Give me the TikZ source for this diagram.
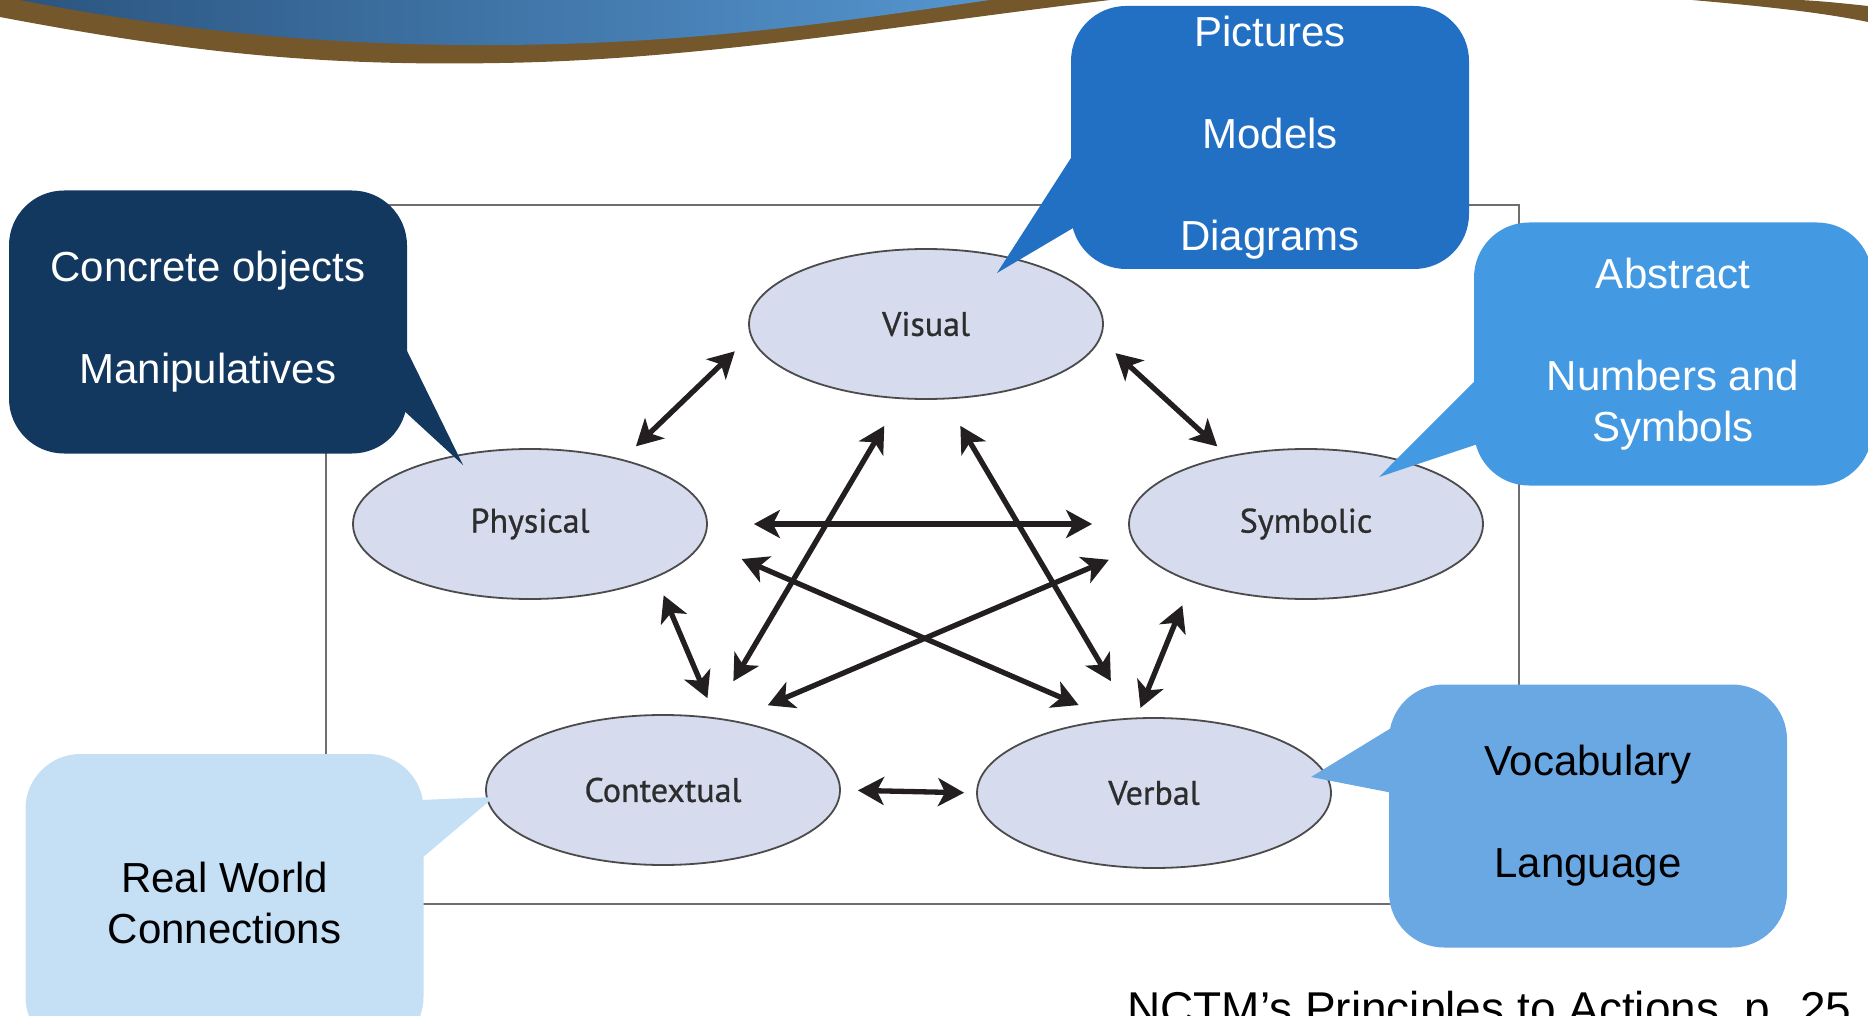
\documentclass[tikz,border=0pt]{standalone}
\usepackage{fontspec}
\setmainfont{Liberation Sans}
\newfontfamily\repfont[FakeBold=0.8]{PT Sans}
\usetikzlibrary{shapes.geometric,arrows.meta,calc}

\definecolor{navy}{RGB}{18,56,95}
\definecolor{bluedeep}{RGB}{33,112,196}
\definecolor{bluemid}{RGB}{68,153,227}
\definecolor{bluesoft}{RGB}{106,168,228}
\definecolor{bluepale}{RGB}{197,223,245}
\definecolor{lavender}{RGB}{214,219,238}
\definecolor{rimgray}{RGB}{75,75,75}
\definecolor{inkgray}{RGB}{45,45,45}
\definecolor{arrowink}{RGB}{35,31,32}
\definecolor{framegray}{RGB}{110,110,110}
\definecolor{wavebrown}{RGB}{116,87,42}
\definecolor{wavedark}{RGB}{43,85,128}
\definecolor{wavelight}{RGB}{85,149,207}

\begin{document}
\begin{tikzpicture}[
                x=1pt, y=-1pt,
                rep/.style={ellipse, draw=rimgray, line width=1.8pt, fill=lavender,
                    minimum width=354pt, minimum height=150pt, inner sep=0pt,
                    text=inkgray, font=\repfont\fontsize{34}{40}\selectfont},
                link/.style={draw=arrowink, line width=5.3pt,
                    {Stealth[length=26pt,width=28pt,inset=7pt]}-{Stealth[length=26pt,width=28pt,inset=7pt]}},
                bubble/.style={rectangle, rounded corners=55pt, minimum width=398pt,
                    minimum height=263pt, inner sep=0pt, align=center,
                    font=\fontsize{42}{51}\selectfont},
            ]
            \useasboundingbox (0,0) rectangle (1868,1016);
            \clip (0,0) rectangle (1868,1016);

            % banner
            \fill[wavebrown] (0,0) -- (1110,0) .. controls (900,25) and (700,60) .. (500,63)
                .. controls (330,66) and (200,55) .. (0,17) -- cycle;
            \shade[left color=wavedark, right color=wavelight] (20,0) -- (990,0)
                .. controls (850,20) and (700,44) .. (500,45)
                .. controls (350,46) and (200,35) .. (20,0) -- cycle;
            \fill[wavebrown] (1692,0) .. controls (1760,6) and (1820,12) .. (1868,22)
                -- (1868,6) .. controls (1840,3) and (1820,1) .. (1800,0) -- cycle;

            % frame
            \draw[framegray, line width=2pt] (326,205) rectangle (1519,904);

            % representations
            \node[rep] (vis) at (926,324) {Visual};
            \node[rep] (phys) at (530,524) {Physical};
            \node[rep] (sym) at (1306,524) {Symbolic};
            \node[rep] (cont) at (663,790) {Contextual};
            \node[rep] (verb) at (1154,793) {Verbal};

            \foreach \a/\b/\s/\t in {phys.35/vis.184/18.6/21.7, vis.355/sym.139/20.6/14,
                    phys.east/sym.west/46/36, phys.354/verb.120/42.4/35.8,
                    sym.188/cont.45/30.7/38, vis.251/cont.56/31.2/41.6,
                    vis.284/verb.106/30.6/42.4, phys.337/cont.54/19.3/21,
                    sym.207/verb.103/25/10.3, cont.east/verb.west/17/12}
                \draw[link, shorten <=\s pt, shorten >=\t pt] (\a) -- (\b);

            % callouts
            \node[bubble, fill=navy, text=white] (conc) at (208,322)
                {Concrete objects\\[51pt]Manipulatives};
            \fill[navy] ($(conc.east)+(-4,21)$) -- ($(phys)+(-67,-59)$) -- ($(conc.east)+(-4,88)$) -- cycle;

            \node[bubble, fill=bluedeep, text=white] (pict) at (1270,137.5)
                {Pictures\\[51pt]Models\\[51pt]Diagrams};
            \fill[bluedeep] ($(pict.west)+(4,14.5)$) -- ($(vis)+(71,-51)$) -- ($(pict.west)+(4,89.5)$) -- cycle;

            \node[bubble, fill=bluemid, text=white] (abst) at (1673,354)
                {Abstract\\[51pt]Numbers and\\Symbols};
            \fill[bluemid] ($(abst.west)+(4,24)$) -- ($(sym)+(73,-47)$) -- ($(abst.west)+(4,90)$) -- cycle;

            \node[bubble, fill=bluesoft, text=black] (voc) at (1588,816)
                {Vocabulary\\[51pt]Language};
            \fill[bluesoft] ($(voc.west)+(4,-89)$) -- ($(verb)+(157,-16)$) -- ($(voc.west)+(4,-23)$) -- cycle;

            \node[bubble, fill=bluepale, text=black, minimum height=298pt] (real) at (224.5,903)
                {Real World\\Connections};
            \fill[bluepale] ($(real.east)+(-4,-103)$) -- ($(cont)+(-169,7)$) -- ($(real.east)+(-4,-43)$) -- cycle;

            \node[anchor=base west, inner sep=0pt, font=\fontsize{46}{55}\selectfont] (cite) at (1127,1024)
                {NCTM’s Principles to Actions, p. 25};
            \end{tikzpicture}
\end{document}
